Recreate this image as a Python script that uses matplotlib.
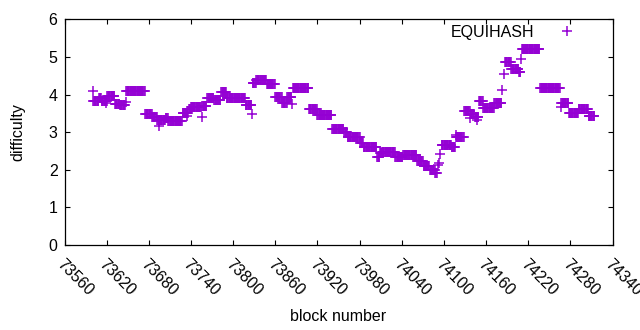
import numpy as np
import matplotlib
matplotlib.use("Agg")
import matplotlib.pyplot as plt

plt.rcParams['font.family'] = ['Liberation Sans', 'DejaVu Sans']

# Runs of constant difficulty: first block, last block, difficulty
run_start = [73601, 73609, 73613, 73621, 73632, 73639, 73648, 73675, 73685, 73692,
             73704, 73708, 73728, 73737, 73740, 73756, 73763, 73773, 73783, 73791,
             73818, 73828, 73833, 73848, 73860, 73870, 73877, 73885, 73908, 73920,
             73941, 73958, 73963, 73981, 73986, 74005, 74009, 74012, 74031, 74042,
             74062, 74071, 74080, 74088, 74097, 74111, 74117, 74129, 74138, 74144,
             74150, 74156, 74172, 74187, 74196, 74207, 74211, 74237, 74267, 74278,
             74292, 74306]
run_end = [73608, 73612, 73620, 73631, 73638, 73646, 73674, 73684, 73691, 73703,
           73707, 73727, 73736, 73739, 73754, 73762, 73772, 73782, 73790, 73817,
           73826, 73832, 73847, 73859, 73869, 73876, 73883, 73907, 73919, 73940,
           73957, 73962, 73980, 73985, 74004, 74008, 74011, 74030, 74041, 74061,
           74070, 74079, 74087, 74090, 74110, 74116, 74128, 74137, 74143, 74149,
           74155, 74171, 74182, 74195, 74206, 74209, 74236, 74265, 74277, 74291,
           74305, 74314]
run_value = [3.83, 3.92, 3.83, 3.96, 3.75, 3.71, 4.09, 3.47, 3.40, 3.32,
             3.38, 3.29, 3.52, 3.62, 3.66, 3.70, 3.91, 3.86, 4.06, 3.92,
             3.73, 4.31, 4.38, 4.27, 3.93, 3.77, 3.94, 4.17, 3.61, 3.45,
             3.08, 3.00, 2.86, 2.71, 2.60, 2.34, 2.45, 2.48, 2.35, 2.39,
             2.22, 2.11, 1.99, 1.91, 2.65, 2.61, 2.88, 3.55, 3.48, 3.40,
             3.84, 3.64, 3.78, 4.87, 4.69, 4.61, 5.20, 4.17, 3.78, 3.50,
             3.61, 3.42]

# Isolated blocks
single_block = [73600, 73619, 73647, 73694, 73734, 73755, 73827, 73884, 74091, 74093,
                74095, 74117, 74137, 74147, 74183, 74186, 74210, 74266]
single_value = [4.10, 3.77, 3.80, 3.17, 3.42, 3.41, 3.48, 3.75, 2.13, 2.17,
                2.42, 2.93, 3.37, 3.31, 4.12, 4.55, 4.94, 3.68]

x_ticks = [73560, 73620, 73680, 73740, 73800, 73860, 73920, 73980, 74040, 74100,
           74160, 74220, 74280, 74340]
y_ticks = [0, 1, 2, 3, 4, 5, 6]

blocks = []
values = []
for s, e, v in zip(run_start, run_end, run_value):
    for b in range(s, e + 1):
        blocks.append(b)
        values.append(v)
blocks += single_block
values += single_value

color = '#9400D3'
fs = 11.5
fig = plt.figure(figsize=(6.4, 3.3), dpi=100)
ax = fig.add_axes([64.5 / 640, 1 - 245 / 330, 548 / 640, (245 - 19.3) / 330])
ax.plot(blocks, values, linestyle='none', marker='+', markersize=7,
        markeredgewidth=1.1, color=color, label='EQUIHASH')

ax.set_xlim(73560, 74340)
ax.set_ylim(0, 6)
ax.set_xticks(x_ticks)
ax.set_yticks(y_ticks)
ax.set_xticklabels([str(t) for t in x_ticks], rotation=-45, ha='left', va='top',
                   rotation_mode='anchor')
ax.tick_params(direction='in', length=3.5, width=0.8, top=True, right=True,
               labelsize=fs, colors='black')
ax.tick_params(axis='x', pad=8)
ax.tick_params(axis='y', pad=5)
for sp in ax.spines.values():
    sp.set_linewidth(0.9)

ax.set_xlabel('block number', fontsize=fs, labelpad=8)
ax.set_ylabel('difficulty', fontsize=fs, labelpad=17)

ax.legend(loc='upper right', bbox_to_anchor=(0.9535, 0.975), frameon=False,
          markerfirst=False, handlelength=2.5, handletextpad=0.8, borderpad=0,
          borderaxespad=0, fontsize=fs, numpoints=1)

fig.savefig('out.png', dpi=100)
